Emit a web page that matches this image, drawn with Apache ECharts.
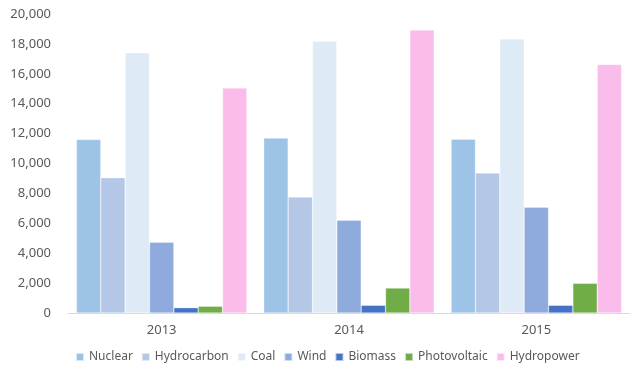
<!DOCTYPE html>
<html>
<head>
<meta charset="utf-8">
<script src="https://cdn.jsdelivr.net/npm/echarts@6/dist/echarts.min.js"></script>
<style>
html, body { margin: 0; padding: 0; background: #fff; }
#main { width: 639px; height: 370px; }
</style>
</head>
<body>
<div id="main"></div>
<script>
var years = ['2013', '2014', '2015'];
var yTicks = [0, 2000, 4000, 6000, 8000, 10000, 12000, 14000, 16000, 18000, 20000];

var nuclear = [11600, 11700, 11620];
var hydrocarbon = [9050, 7760, 9360];
var coal = [17400, 18170, 18330];
var wind = [4730, 6200, 7070];
var biomass = [355, 515, 515];
var photovoltaic = [450, 1670, 1985];
var hydropower = [15050, 18930, 16630];

var names = ['Nuclear', 'Hydrocarbon', 'Coal', 'Wind', 'Biomass', 'Photovoltaic', 'Hydropower'];
var values = [nuclear, hydrocarbon, coal, wind, biomass, photovoltaic, hydropower];
var colors = ['#9DC3E6', '#B4C7E7', '#DEEBF7', '#8FAADC', '#4472C4', '#70AD47', '#FABDEB'];

var seriesList = [];
for (var i = 0; i < names.length; i++) {
	seriesList.push({
		name: names[i],
		type: 'bar',
		barGap: '0%',
		barCategoryGap: '9%',
		itemStyle: {
			color: colors[i],
			borderColor: 'rgba(255,255,255,0.6)',
			borderWidth: 0.5
		},
		data: values[i]
	});
}

var myChart = echarts.init(document.getElementById('main'));
var option = {
	animation: false,
	textStyle: { fontFamily: 'Noto Sans' },
	grid: { left: 68, right: 9, top: 14, bottom: 57, containLabel: false },
	legend: {
		data: names,
		bottom: 2,
		left: 70,
		icon: 'rect',
		itemWidth: 8,
		itemHeight: 8,
		itemGap: 8,
		textStyle: { color: '#595959', fontSize: 12 }
	},
	xAxis: {
		type: 'category',
		data: years,
		axisLine: { lineStyle: { color: '#d9d9d9' } },
		axisTick: { show: false },
		axisLabel: { color: '#595959', fontSize: 13, margin: 11 }
	},
	yAxis: {
		type: 'value',
		min: yTicks[0],
		max: yTicks[yTicks.length - 1],
		interval: 2000,
		splitLine: { show: false },
		axisLine: { show: false },
		axisTick: { show: false },
		axisLabel: {
			color: '#595959',
			fontSize: 13,
			margin: 17,
			formatter: function (v) { return v.toLocaleString('en-US'); }
		}
	},
	series: seriesList
};
myChart.setOption(option);
</script>
</body>
</html>
